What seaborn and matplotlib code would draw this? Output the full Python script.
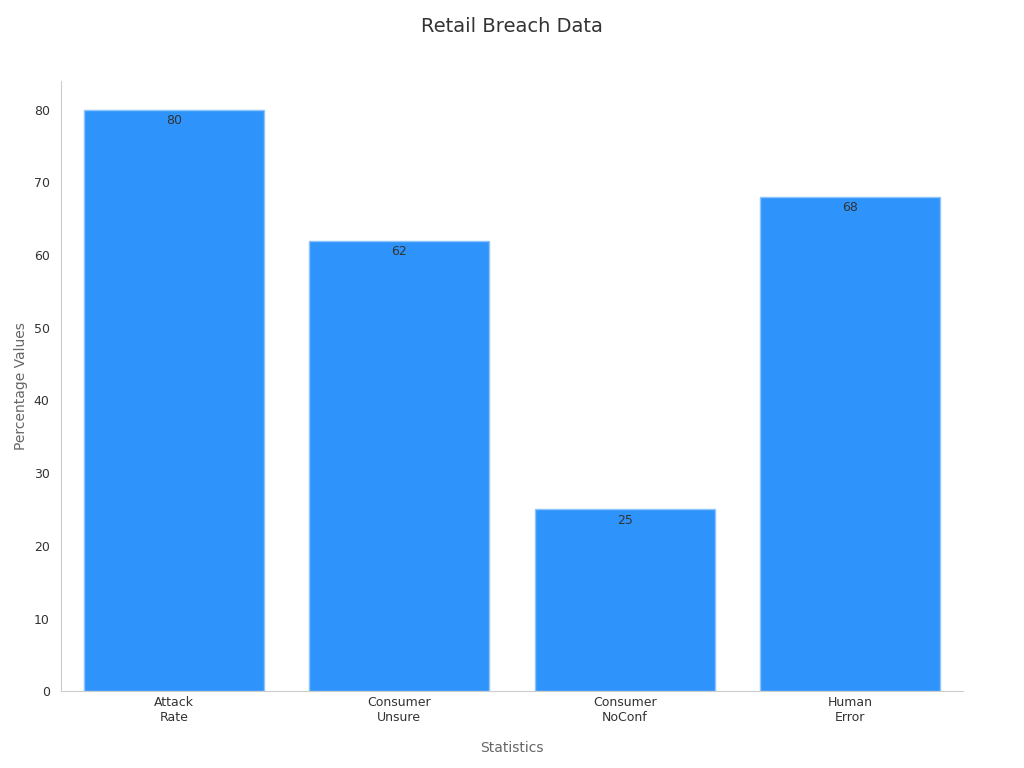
import matplotlib
matplotlib.use("Agg")
import matplotlib.pyplot as plt
import seaborn as sns
import pandas as pd

categories = ["Attack\nRate", "Consumer\nUnsure", "Consumer\nNoConf", "Human\nError"]
values = [80, 62, 25, 68]

df = pd.DataFrame({"Statistics": categories, "Percentage Values": values})

sns.set_style("white")
fig, ax = plt.subplots(figsize=(10.24, 7.68), dpi=100)
sns.barplot(data=df, x="Statistics", y="Percentage Values", color="#2e93fa",
            saturation=1, width=0.8, edgecolor="#8cc4fb", linewidth=1, ax=ax)

for i, v in enumerate(values):
    ax.text(i, v - 0.6, str(v), ha="center", va="top", fontsize=9, color="#333333")

ax.set_title("Retail Breach Data", fontsize=14, color="#333333", pad=35)
ax.set_xlabel("Statistics", fontsize=10, color="#666666", labelpad=12)
ax.set_ylabel("Percentage Values", fontsize=10, color="#666666")
ax.set_yticks(range(0, 81, 10))
ax.set_ylim(0, 84)
ax.tick_params(axis="both", labelsize=9, colors="#333333")
ax.tick_params(axis="y", length=5, color="#cccccc")
ax.tick_params(axis="x", length=0)
sns.despine(ax=ax)
for s in ["left", "bottom"]:
    ax.spines[s].set_color("#cccccc")

plt.subplots_adjust(left=0.06, right=0.94, top=0.895, bottom=0.1)
plt.savefig("out.png", dpi=100)
